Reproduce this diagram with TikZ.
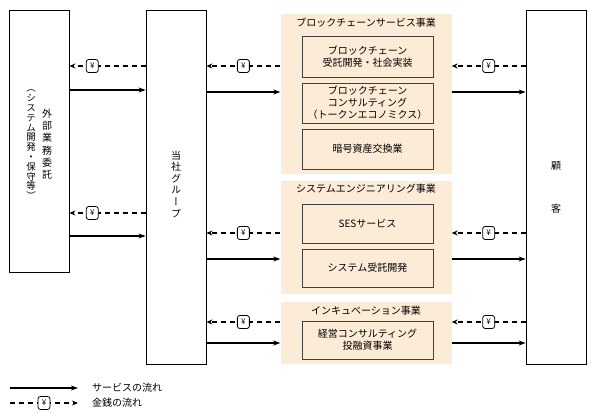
\documentclass[tikz,border=0pt]{standalone}
\usepackage{fontspec}
\setmainfont{Noto Sans CJK JP}
\newfontfamily\vjp[RawFeature=+vert]{Noto Sans CJK JP}
\usetikzlibrary{arrows.meta}
\definecolor{panelfill}{RGB}{252,235,214}
\tikzstyle{Party}=[rectangle, draw=black, line width=0.8pt, minimum width=60, inner sep=0, align=center]
\tikzstyle{Panel}=[rectangle, fill=panelfill, minimum width=171, inner sep=0]
\tikzstyle{Unit}=[rectangle, draw=black!75, line width=0.7pt, fill=panelfill, minimum width=131, inner sep=0, align=center, font=\fontsize{10}{12}\selectfont]
\tikzstyle{Title}=[inner sep=0, font=\fontsize{10}{12}\selectfont]
\tikzstyle{Service}=[line width=1.1pt, -{Stealth[length=7pt,width=5pt]}]
\tikzstyle{Money}=[line width=1.1pt, dash pattern=on 5pt off 4pt, -{Stealth[length=6pt,width=5pt]}]
\tikzstyle{Yen}=[rectangle, solid, rounded corners=2.5pt, draw=black, line width=0.8pt, fill=white, minimum width=12, minimum height=13, inner sep=0, font=\fontsize{8}{8}\selectfont]
\begin{document}
\begin{tikzpicture}[x=1pt, y=-1pt]
    \useasboundingbox (0,0) rectangle (600,417);
    \path
    (39,141) node[Party, minimum height=262] (outsrc) {}
    (176,187) node[Party, minimum height=354] (grp) {}
    (556,187) node[Party, minimum height=354, font=\fontsize{10}{12}\selectfont] (cust) {顧\\[31pt]客}
    (366,94) node[Panel, minimum height=160] (pA) {}
    (366,237.5) node[Panel, minimum height=113] (pB) {}
    (366,333) node[Panel, minimum height=62] (pC) {};

    % vertical labels
    \node[align=center, font=\vjp\fontsize{10}{12.3}\selectfont] (outname) at (47,144) {外\\部\\業\\務\\委\\託};
    \node[align=center, font=\vjp\fontsize{9.5}{9.8}\selectfont] (outwork) at (31,145) {（\\シ\\ス\\テ\\ム\\開\\発\\・\\保\\守\\等\\）};
    \node[align=center, font=\vjp\fontsize{10}{11.6}\selectfont] (grpname) at (176,184) {当\\社\\グ\\ル\\ー\\プ};

    % business units
    \node[Title] (tA) at (366,23) {ブロックチェーンサービス事業};
    \node[Unit, minimum height=41] (bcdev) at (367.5,56.5) {ブロックチェーン\\受託開発・社会実装};
    \node[Unit, minimum height=40] (bccons) at (367.5,103) {ブロックチェーン\\コンサルティング\\（トークンエコノミクス）};
    \node[Unit, minimum height=40] (crypto) at (367.5,149) {暗号資産交換業};
    \node[Title] (tB) at (366,189) {システムエンジニアリング事業};
    \node[Unit, minimum height=39] (ses) at (367.5,223.5) {SESサービス};
    \node[Unit, minimum height=38] (sysdev) at (367.5,268) {システム受託開発};
    \node[Title] (tC) at (366,311) {インキュベーション事業};
    \node[Unit, minimum height=38] (incub) at (367.5,340) {経営コンサルティング\\投融資事業};

    % flows
    \coordinate (ya) at (0,66);
    \coordinate (yb) at (0,90);
    \coordinate (yc) at (0,92);
    \coordinate (yd) at (0,213);
    \coordinate (ye) at (0,236);
    \coordinate (yf) at (0,233);
    \coordinate (yg) at (0,259);
    \coordinate (yh) at (0,322);
    \coordinate (yi) at (0,343);
    \draw[Money] (grp.west |- ya) -- node[Yen, pos=0.7] (yen1) {¥} (outsrc.east |- ya);
    \draw[Service] (outsrc.east |- yb) -- (grp.west |- yb);
    \draw[Money] (grp.west |- yd) -- node[Yen, pos=0.7] (yen2) {¥} (outsrc.east |- yd);
    \draw[Service] (outsrc.east |- ye) -- (grp.west |- ye);

    \draw[Money] (pA.west |- ya) -- node[Yen] (yen3) {¥} (grp.east |- ya);
    \draw[Service] (grp.east |- yc) -- (pA.west |- yc);
    \draw[Money] (pB.west |- yf) -- node[Yen] (yen4) {¥} (grp.east |- yf);
    \draw[Service] (grp.east |- yg) -- (pB.west |- yg);
    \draw[Money] (pC.west |- yh) -- node[Yen] (yen5) {¥} (grp.east |- yh);
    \draw[Service] (grp.east |- yi) -- (pC.west |- yi);

    \draw[Money] (cust.west |- ya) -- node[Yen] (yen6) {¥} (pA.east |- ya);
    \draw[Service] (pA.east |- yc) -- (cust.west |- yc);
    \draw[Money] (cust.west |- yf) -- node[Yen] (yen7) {¥} (pB.east |- yf);
    \draw[Service] (pB.east |- yg) -- (cust.west |- yg);
    \draw[Money] (cust.west |- yh) -- node[Yen] (yen8) {¥} (pC.east |- yh);
    \draw[Service] (pC.east |- yi) -- (cust.west |- yi);

    % legend
    \coordinate (lgA) at (10,388);
    \coordinate (lgB) at (78,388);
    \coordinate (lgC) at (10,403);
    \coordinate (lgD) at (78,403);
    \draw[Service] (lgA) -- (lgB);
    \draw[Money] (lgC) -- node[Yen] (yen9) {¥} (lgD);
    \node[Title, anchor=west] (lgsvc) at (92,388) {サービスの流れ};
    \node[Title, anchor=west] (lgmny) at (92,403) {金銭の流れ};
\end{tikzpicture}
\end{document}
